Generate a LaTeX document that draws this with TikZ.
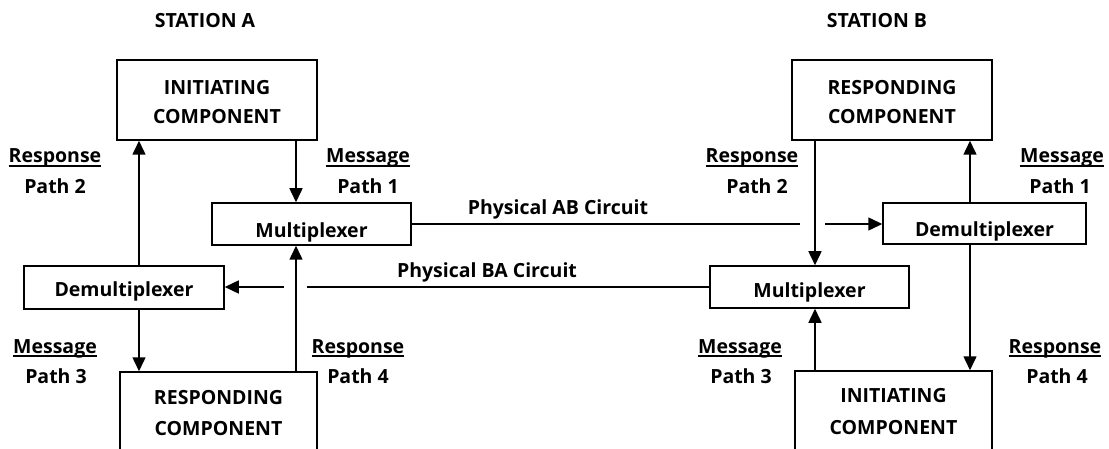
\documentclass[tikz,border=0pt]{standalone}
\usepackage{fontspec}
\setmainfont{Open Sans}
\usetikzlibrary{arrows.meta,calc}

\tikzset{
  every node/.style={font=\bfseries\fontsize{19.5}{30}\selectfont},
  box/.style={draw, line width=1.5pt, inner sep=0pt},
  % single-line box text: baseline placed by a fixed text height
  onel/.style={text height=#1, text depth=0pt},
  lbl/.style={inner sep=0pt, anchor=base},
  wire/.style={line width=1.5pt},
  arr/.style={wire, -{Triangle[length=14pt,width=13pt]}},
  uline/.style={line width=1.3pt}
}

\begin{document}
\begin{tikzpicture}[x=1pt,y=-1pt]
\useasboundingbox (0,0) rectangle (1109,449);
\clip (0,0) rectangle (1109,449);

% station headings
\node[lbl] (stA) at (205,28) {STATION A};
\node[lbl] (stB) at (877,28) {STATION B};

% station A blocks
\node[box, minimum width=200pt, minimum height=80pt] (iniA) at (217,100) {};
\node[box, onel=28pt, minimum width=199pt, minimum height=42pt] (muxA) at (311.5,224) {Multiplexer};
\node[box, onel=19pt, minimum width=200pt, minimum height=43pt] (demuxA) at (124,287.5) {Demultiplexer};
\node[box, minimum width=197pt, minimum height=84pt] (respA) at (218.5,414) {};

% station B blocks
\node[box, minimum width=200pt, minimum height=80pt] (respB) at (892,100) {};
\node[box, onel=26pt, minimum width=203pt, minimum height=41pt] (demuxB) at (984.5,223.5) {Demultiplexer};
\node[box, onel=22pt, minimum width=199pt, minimum height=42pt] (muxB) at (809.5,287) {Multiplexer};
\node[box, minimum width=197pt, minimum height=84pt] (iniB) at (893.5,413) {};

% two-line captions of the component blocks
\node[lbl] (iniA1) at ($(iniA.north)+(0,35)$) {INITIATING};
\node[lbl] (iniA2) at ($(iniA.north)+(0,64)$) {COMPONENT};
\node[lbl] (respA1) at ($(respA.north)+(0,33)$) {RESPONDING};
\node[lbl] (respA2) at ($(respA.north)+(0,64)$) {COMPONENT};
\node[lbl] (respB1) at ($(respB.north)+(0,35)$) {RESPONDING};
\node[lbl] (respB2) at ($(respB.north)+(0,64)$) {COMPONENT};
\node[lbl] (iniB1) at ($(iniB.north)+(0,32)$) {INITIATING};
\node[lbl] (iniB2) at ($(iniB.north)+(0,64)$) {COMPONENT};

% columns of the vertical paths
\coordinate (cAl) at (139,0);
\coordinate (cAr) at (296,0);
\coordinate (cBl) at (815,0);
\coordinate (cBr) at (970,0);

% station A paths
\draw[arr] (cAr |- iniA.south) -- (cAr |- muxA.north);
\draw[arr] (cAl |- demuxA.north) -- (cAl |- iniA.south);
\draw[arr] (cAl |- demuxA.south) -- (cAl |- respA.north);
\draw[arr] (cAr |- respA.north) -- (cAr |- muxA.south);

% station B paths
\draw[arr] (cBl |- respB.south) -- (cBl |- muxB.north);
\draw[arr] (cBr |- demuxB.north) -- (cBr |- respB.south);
\draw[arr] (cBr |- demuxB.south) -- (cBr |- iniB.north);
\draw[arr] (cBl |- iniB.north) -- (cBl |- muxB.south);

% physical circuits, broken where they pass the vertical paths
\coordinate (abGapL) at (800,0);
\coordinate (abGapR) at (825,0);
\draw[wire] (muxA.east) -- (abGapL |- muxA.east);
\draw[arr] (abGapR |- muxA.east) -- (muxA.east -| demuxB.west);
\coordinate (baGapR) at (307,0);
\coordinate (baGapL) at (284,0);
\draw[wire] (muxB.west) -- (baGapR |- muxB.west);
\draw[arr] (baGapL |- muxB.west) -- (muxB.west -| demuxA.east);

\node[lbl] (abTxt) at (558,215) {Physical AB Circuit};
\node[lbl] (baTxt) at (487,278) {Physical BA Circuit};

% path labels, station A
\node[lbl] (rA2) at (55,163) {Response};
\node[lbl] (pA2) at (55,194) {Path 2};
\node[lbl] (mA1) at (368,163) {Message};
\node[lbl] (pA1) at (368,194) {Path 1};
\node[lbl] (mA3) at (55,353) {Message};
\node[lbl] (pA3) at (56,383) {Path 3};
\node[lbl] (rA4) at (358,353) {Response};
\node[lbl] (pA4) at (358,383) {Path 4};

% path labels, station B
\node[lbl] (rB2) at (752,163) {Response};
\node[lbl] (pB2) at (757,194) {Path 2};
\node[lbl] (mB1) at (1062,163) {Message};
\node[lbl] (pB1) at (1060,194) {Path 1};
\node[lbl] (mB3) at (740,353) {Message};
\node[lbl] (pB3) at (741,383) {Path 3};
\node[lbl] (rB4) at (1055,353) {Response};
\node[lbl] (pB4) at (1057,383) {Path 4};

% underlines of the path kinds
\foreach \w in {rA2,mA1,mA3,rA4,rB2,mB1,mB3,rB4}
  \draw[uline] ([yshift=-3pt]\w.base west) -- ([yshift=-3pt]\w.base east);
\end{tikzpicture}
\end{document}
